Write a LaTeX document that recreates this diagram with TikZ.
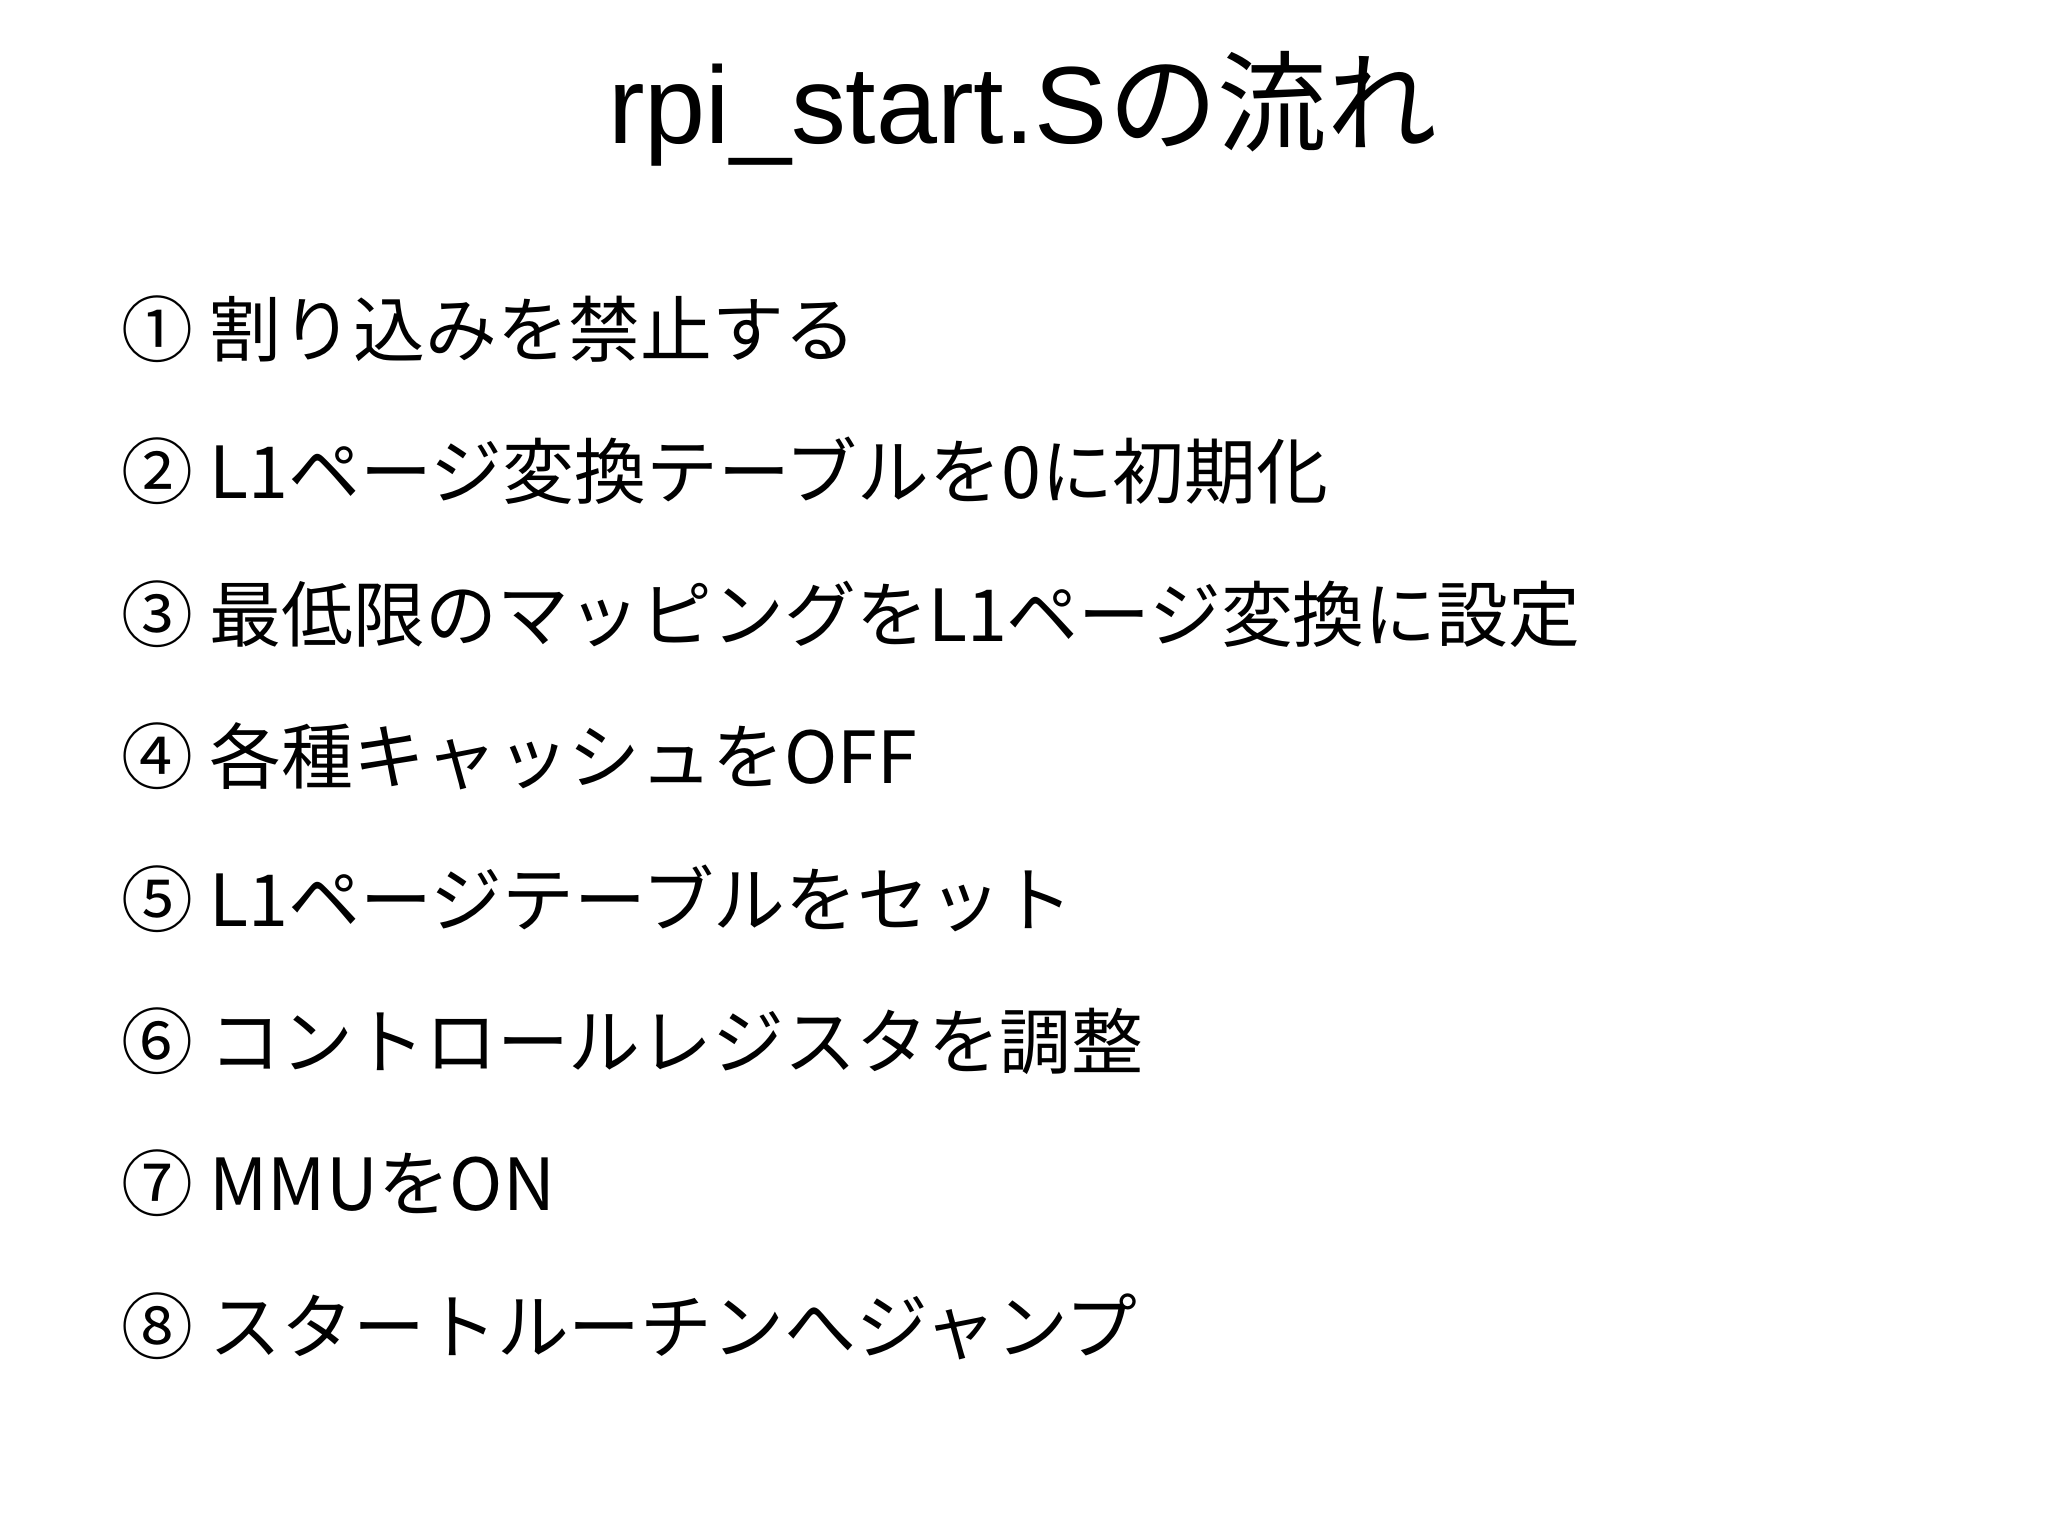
\documentclass[tikz,border=0pt]{standalone}
\usepackage{fontspec}
\setmainfont{Liberation Sans}
\newfontfamily\jpfont{Noto Sans CJK JP}
\begin{document}
\begin{tikzpicture}[x=1pt,y=1pt,
  item/.style={anchor=base west,inner sep=0pt,font=\jpfont\fontsize{55}{60}\selectfont}]
\useasboundingbox (0,0) rectangle (1568,-1176);
\node[anchor=base,inner sep=0pt,font=\fontsize{84}{90}\selectfont] (title) at (783,-110) {rpi\_start.S{\jpfont の流れ}};
\node[item] (i1) at (93,-273) {① 割り込みを禁止する};
\node[item] (i2) at (93,-382) {② L1ページ変換テーブルを0に初期化};
\node[item] (i3) at (93,-491) {③ 最低限のマッピングをL1ページ変換に設定};
\node[item] (i4) at (93,-600) {④ 各種キャッシュをOFF};
\node[item] (i5) at (93,-709) {⑤ L1ページテーブルをセット};
\node[item] (i6) at (93,-818) {⑥ コントロールレジスタを調整};
\node[item] (i7) at (93,-927) {⑦ MMUをON};
\node[item] (i8) at (93,-1036) {⑧ スタートルーチンへジャンプ};
\end{tikzpicture}
\end{document}
